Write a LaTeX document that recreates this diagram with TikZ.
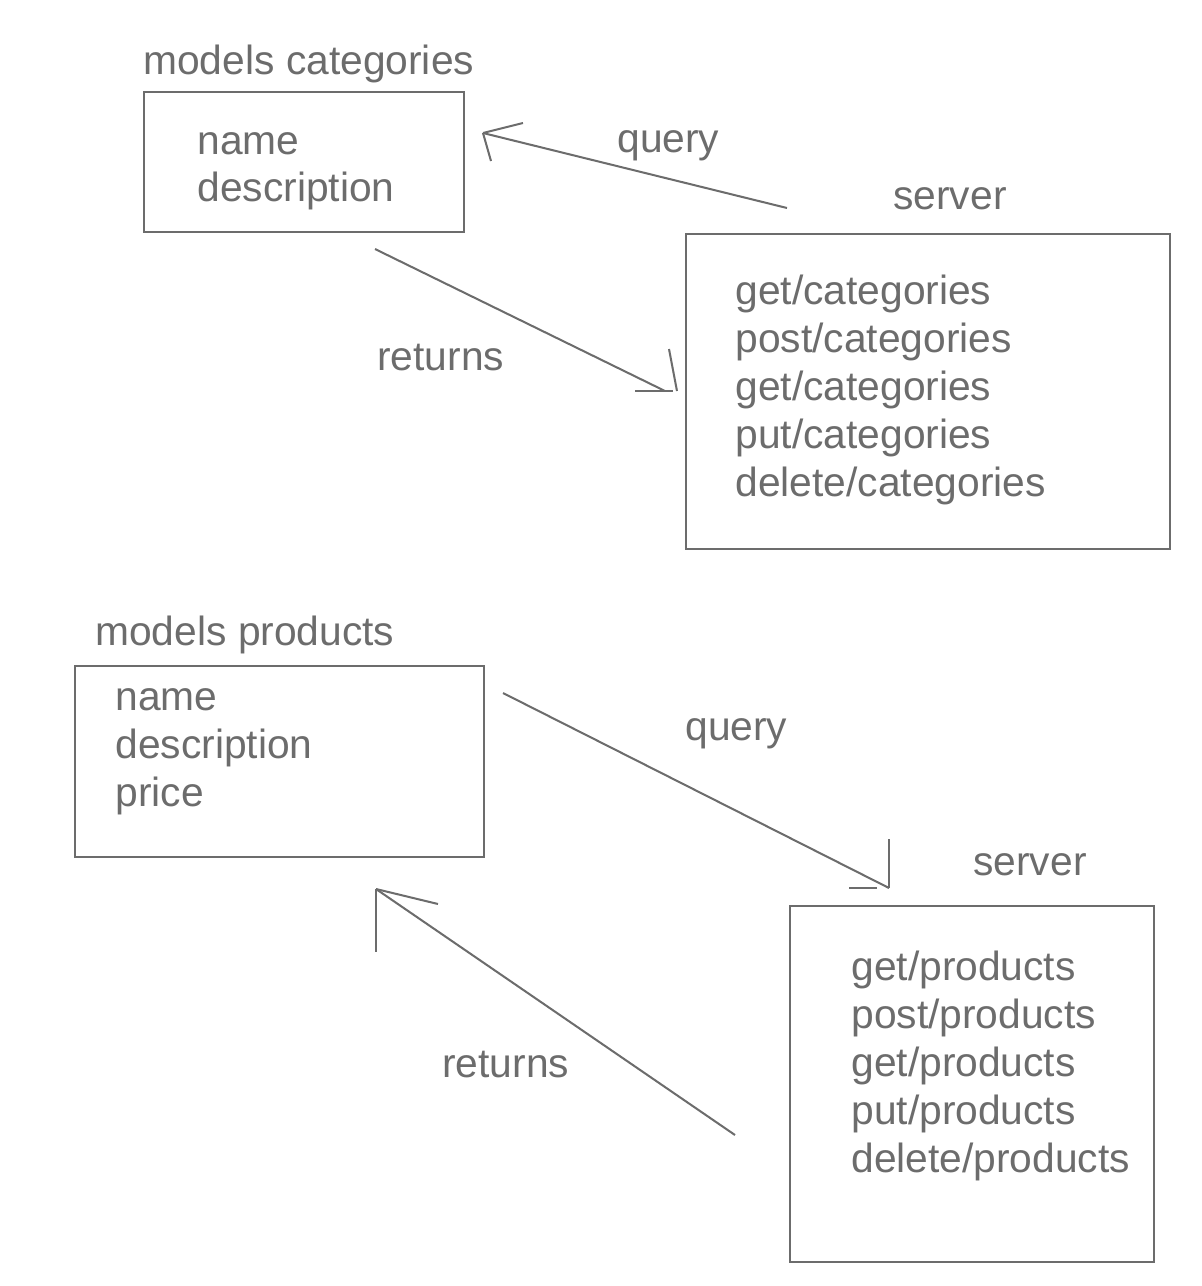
\documentclass[tikz,border=0pt]{standalone}
\usepackage{fontspec}
\setmainfont{Liberation Sans}
\usepackage{tikz}
\definecolor{ink}{RGB}{108,108,108}
\tikzset{
  lbl/.style={anchor=base west, inner sep=0pt, text=ink, font=\fontsize{23.2}{27}\selectfont},
  box/.style={draw=ink, line width=1.15pt, anchor=north west, inner sep=0pt},
  conn/.style={draw=ink, line width=1.15pt},
}

\begin{document}
\begin{tikzpicture}[x=0.02cm, y=-0.02cm]
\useasboundingbox (0,0) rectangle (1202,1286);

% categories
\node[lbl] (mc-title) at (143,74) {models categories};
\node[box, minimum width=6.4cm, minimum height=2.8cm] (mc-box) at (143,91) {};
\node[lbl] (mc-name) at (197,154) {name};
\node[lbl] (mc-desc) at (197,201) {description};

\node[lbl] (sc-title) at (893,209) {server};
\node[box, minimum width=9.68cm, minimum height=6.3cm] (sc-box) at (685,233) {};
\node[lbl] (sc-1) at (735,304) {get/categories};
\node[lbl] (sc-2) at (735,352) {post/categories};
\node[lbl] (sc-3) at (735,400) {get/categories};
\node[lbl] (sc-4) at (735,448) {put/categories};
\node[lbl] (sc-5) at (735,496) {delete/categories};

\node[lbl] (q1-lbl) at (617,152) {query};
\node[lbl] (r1-lbl) at (377,370) {returns};

% products
\node[lbl] (mp-title) at (95,645) {models products};
\node[box, minimum width=8.18cm, minimum height=3.82cm] (mp-box) at (74,665) {};
\node[lbl] (mp-name) at (115,710) {name};
\node[lbl] (mp-desc) at (115,758) {description};
\node[lbl] (mp-price) at (115,806) {price};

\node[lbl] (sp-title) at (973,875) {server};
\node[box, minimum width=7.28cm, minimum height=7.12cm] (sp-box) at (789,905) {};
\node[lbl] (sp-1) at (851,980) {get/products};
\node[lbl] (sp-2) at (851,1028) {post/products};
\node[lbl] (sp-3) at (851,1076) {get/products};
\node[lbl] (sp-4) at (851,1124) {put/products};
\node[lbl] (sp-5) at (851,1172) {delete/products};

\node[lbl] (q2-lbl) at (685,740) {query};
\node[lbl] (r2-lbl) at (442,1077) {returns};

% connector ends
\coordinate (q1-s) at (787,208);
\coordinate (q1-e) at (483,133);
\coordinate (r1-s) at (375,249);
\coordinate (r1-e) at (665,391);
\coordinate (q2-s) at (503,693);
\coordinate (q2-e) at (889,888);
\coordinate (r2-s) at (735,1135);
\coordinate (r2-e) at (376,889);

% connectors, hand drawn heads
\draw[conn] (q1-s) -- (q1-e);
\draw[conn] (q1-e) -- (523,123);
\draw[conn] (q1-e) -- (491,161);

\draw[conn] (r1-s) -- (r1-e);
\draw[conn] (635,391) -- (673,391);
\draw[conn] (669,349) -- (677,391);

\draw[conn] (q2-s) -- (q2-e);
\draw[conn] (q2-e) -- (889,839);
\draw[conn] (849,888) -- (877,888);

\draw[conn] (r2-s) -- (r2-e);
\draw[conn] (r2-e) -- (376,952);
\draw[conn] (r2-e) -- (438,904);
\end{tikzpicture}
\end{document}
